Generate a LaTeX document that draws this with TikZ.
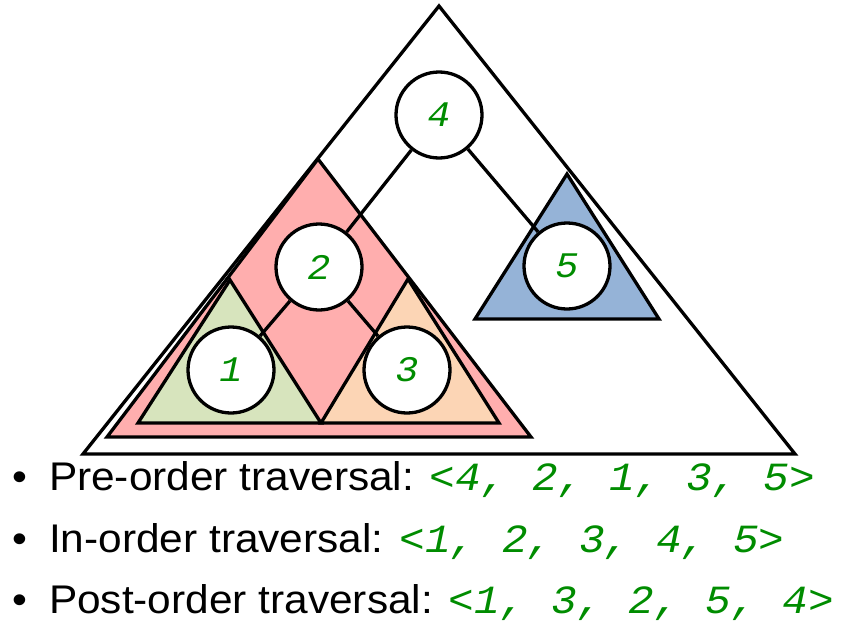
\documentclass[tikz,border=0pt]{standalone}
\usepackage{fontspec}
\setmainfont{Liberation Sans}
\newfontfamily\listfont{Liberation Sans}[FakeStretch=1.06]
\newfontfamily\seqfont{Liberation Mono}[FakeStretch=1.07]
\usetikzlibrary{positioning}

\definecolor{seqgreen}{RGB}{0,140,0}
\definecolor{subred}{RGB}{255,174,174}
\definecolor{subgreen}{RGB}{215,228,189}
\definecolor{suborange}{RGB}{252,213,181}
\definecolor{subblue}{RGB}{149,179,215}

\begin{document}
\begin{tikzpicture}[
  x=1pt, y=-1pt,
  tree/.style={draw, line width=3.3pt, line join=miter},
  key/.style={draw, circle, line width=3.3pt, fill=white, minimum size=86pt, inner sep=0pt,
    font=\fontsize{36}{40}\selectfont\seqfont\itshape, text=seqgreen},
  edge/.style={line width=3.3pt},
  item/.style={anchor=base west, inner sep=0pt, font=\fontsize{40}{44}\selectfont\listfont}
]
\useasboundingbox (0,0) rectangle (854,637);

% Subtrees
\draw[tree, fill=white] (439,6) -- (83,454) -- (795,454) -- cycle;
\draw[tree, fill=subred] (318,159) -- (107,437) -- (531,437) -- cycle;
\draw[tree, fill=subgreen] (230,280) -- (138,423) -- (321,423) -- cycle;
\draw[tree, fill=suborange] (408,279) -- (321,423) -- (499,423) -- cycle;
\draw[tree, fill=subblue] (567,174) -- (475,319) -- (659,319) -- cycle;

% Keys
\node[key] (n4) at (439,115) {4};
\node[key] (n2) at (319,267) {2};
\node[key] (n5) at (567,266) {5};
\node[key] (n1) at (231,370) {1};
\node[key] (n3) at (407,370) {3};

% Edges
\draw[edge] (n4) -- (n2);
\draw[edge] (n4) -- (n5);
\draw[edge] (n2) -- (n1);
\draw[edge] (n2) -- (n3);

% Traversals
\node[item] (pre) at (12,490) {•\hspace{22pt}Pre-order traversal: \textcolor{seqgreen}{\seqfont\itshape <4, 2, 1, 3, 5>}};
\node[item] (in) at (12,552) {•\hspace{22pt}In-order traversal: \textcolor{seqgreen}{\seqfont\itshape <1, 2, 3, 4, 5>}};
\node[item] (post) at (12,613) {•\hspace{22pt}Post-order traversal: \textcolor{seqgreen}{\seqfont\itshape <1, 3, 2, 5, 4>}};

\end{tikzpicture}
\end{document}
